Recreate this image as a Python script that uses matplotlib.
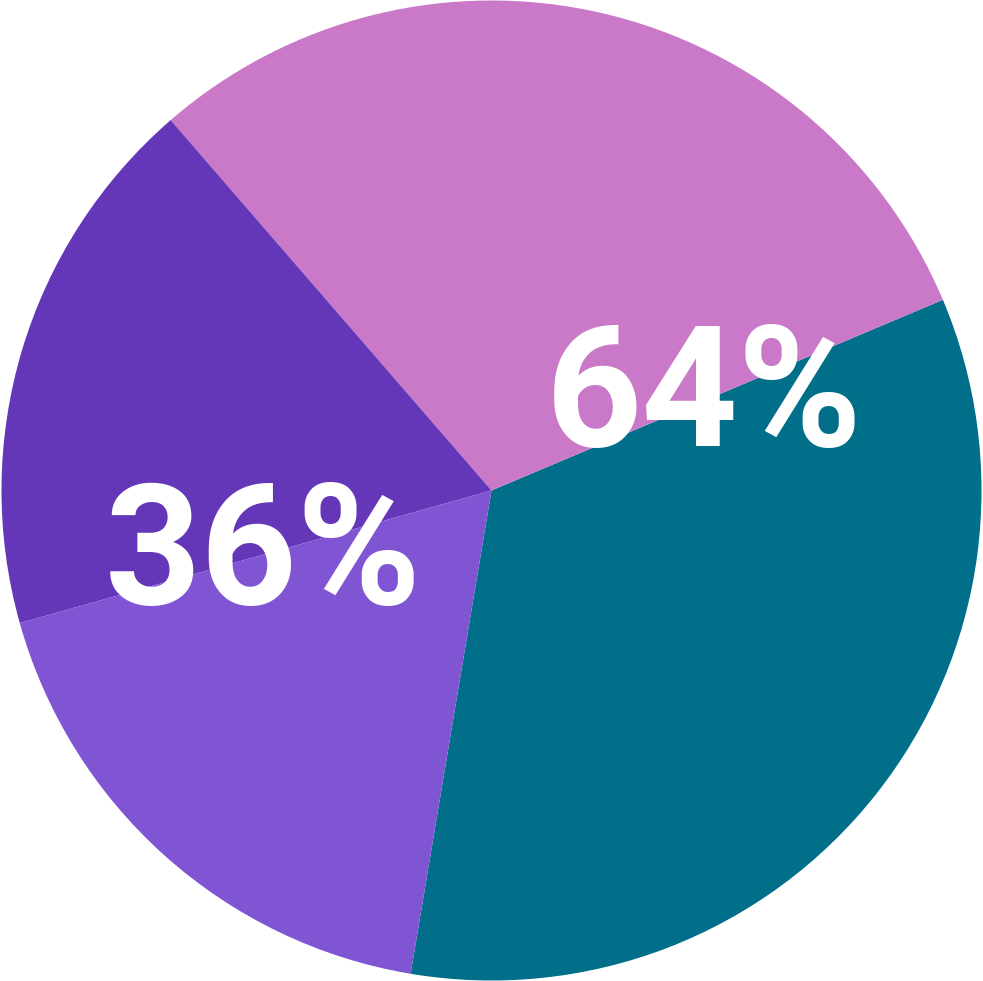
import numpy as np
import matplotlib
matplotlib.use("Agg")
import matplotlib.pyplot as plt

# slices, counter-clockwise from the teal one
shares = [34, 30, 18, 18]
colors = ["#016E8A", "#C979C8", "#6437B9", "#8055D4"]
group_labels = ["64%", "36%"]

fig = plt.figure(figsize=(9.83, 9.81), dpi=100)
ax = fig.add_axes([0, 0, 1, 1])
wedges, _ = ax.pie(shares, colors=colors, startangle=260.5, counterclock=True,
                   radius=1.0, wedgeprops=dict(linewidth=0))
ax.set_xlim(-1.001, 1.001)
ax.set_ylim(-1.001, 1.001)
ax.set_aspect("equal")
ax.axis("off")

# labels sit on the boundary between the two slices of each group
for lab, w, off in zip(group_labels, [wedges[1], wedges[3]], [2.4, -1.7]):
    ang = np.deg2rad(w.theta1 + off)
    r = 0.48
    ax.text(r * np.cos(ang), r * np.sin(ang) - 0.02, lab, color="white",
            fontsize=121, fontweight="bold", family="Roboto",
            ha="center", va="center")

fig.savefig("out.png", dpi=100)
